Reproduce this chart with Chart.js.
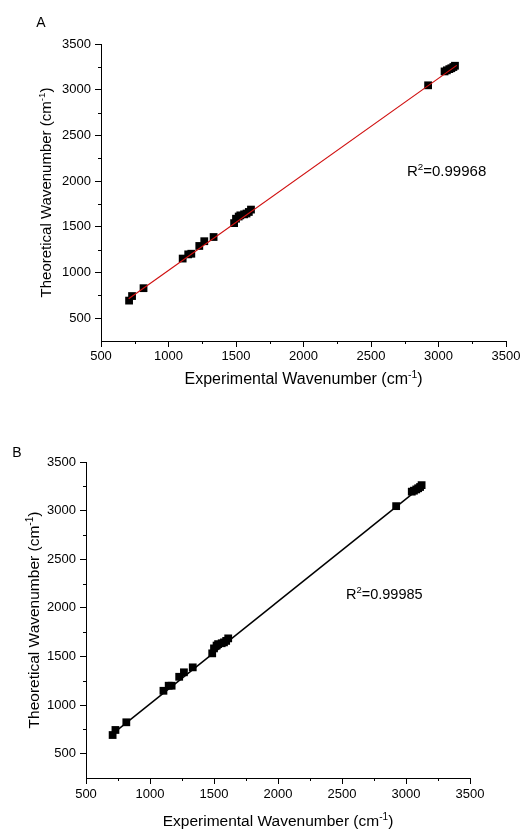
<!DOCTYPE html>
<html>
<head>
<meta charset="utf-8">
<script src="https://cdn.jsdelivr.net/npm/chart.js@4.4.1/dist/chart.umd.min.js"></script>
<style>
  body { margin: 0; background: #fff; }
  .panel { position: absolute; left: 0; width: 531px; }
</style>
</head>
<body>
<div class="panel" style="top:0;height:400px"><canvas id="chartA" width="531" height="400"></canvas></div>
<div class="panel" style="top:400px;height:431px"><canvas id="chartB" width="531" height="431"></canvas></div>
<script>
// experimental wavenumbers (cm-1), shared by both panels
var expX = [708, 730, 815, 1105, 1146, 1169, 1228, 1265, 1334, 1486, 1500, 1520, 1532, 1560, 1578, 1595, 1611, 2923, 3045, 3062, 3080, 3095, 3110, 3122];
// theoretical wavenumbers, panel A and panel B
var theoA = [692, 742, 828, 1152, 1198, 1205, 1290, 1342, 1388, 1540, 1588, 1612, 1625, 1636, 1645, 1662, 1688, 3048, 3200, 3212, 3225, 3235, 3248, 3262];
var theoB = [692, 744, 823, 1147, 1199, 1199, 1291, 1337, 1388, 1532, 1583, 1612, 1627, 1636, 1645, 1660, 1686, 3046, 3195, 3205, 3218, 3230, 3243, 3262];
// fitted line end points
var fitX = [705, 3135];
var fitA = [712, 3266];
var fitB = [702, 3262];
var xTicks = [500, 1000, 1500, 2000, 2500, 3000, 3500];
var yTicks = [500, 1000, 1500, 2000, 2500, 3000, 3500];
var r2A = '0.99968';
var r2B = '0.99985';

var FONT = '"Liberation Sans", Arial, sans-serif';

function pts(xs, ys) {
  return xs.map(function (x, i) { return { x: x, y: ys[i] }; });
}

// draw text made of normal / superscript parts
function drawParts(ctx, parts, x, y, size, align) {
  var w = 0;
  parts.forEach(function (p) {
    ctx.font = (p[1] ? size * 0.65 : size) + 'px ' + FONT;
    w += ctx.measureText(p[0]).width;
  });
  var cx = align === 'left' ? x : x - w / 2;
  ctx.textAlign = 'left';
  ctx.textBaseline = 'middle';
  parts.forEach(function (p) {
    ctx.font = (p[1] ? size * 0.65 : size) + 'px ' + FONT;
    ctx.fillText(p[0], cx, p[1] ? y - size * 0.33 : y);
    cx += ctx.measureText(p[0]).width;
  });
}

var textPlugin = {
  id: 'panelText',
  afterDraw: function (chart, args, o) {
    var ctx = chart.ctx, a = chart.chartArea;
    var xs = chart.scales.x, ys = chart.scales.y;
    ctx.save();
    ctx.strokeStyle = '#000';
    ctx.lineWidth = 1;
    // minor ticks
    ctx.beginPath();
    for (var i = 0; i < xTicks.length - 1; i++) {
      var px = Math.round(xs.getPixelForValue(xTicks[i] + 250)) + 0.5;
      ctx.moveTo(px, a.bottom);
      ctx.lineTo(px, a.bottom + 3);
    }
    for (var j = 0; j < yTicks.length - 1; j++) {
      var py = Math.round(ys.getPixelForValue(yTicks[j] + 250)) + 0.5;
      ctx.moveTo(a.left, py);
      ctx.lineTo(a.left - 3, py);
    }
    ctx.stroke();

    ctx.fillStyle = '#000';
    // panel letter
    ctx.font = o.letterSize + 'px ' + FONT;
    ctx.textAlign = 'center';
    ctx.textBaseline = 'middle';
    ctx.fillText(o.letter, o.letterX, o.letterY);
    // axis titles
    drawParts(ctx, [['Experimental Wavenumber (cm', false], ['-1', true], [')', false]],
      (a.left + a.right) / 2, o.xTitleY, o.xTitleSize, 'center');
    ctx.save();
    ctx.translate(o.yTitleX, (a.top + a.bottom) / 2);
    ctx.rotate(-Math.PI / 2);
    drawParts(ctx, [['Theoretical Wavenumber (cm', false], ['-1', true], [')', false]],
      0, 0, o.yTitleSize, 'center');
    ctx.restore();
    // R squared
    drawParts(ctx, [['R', false], ['2', true], ['=' + o.r2, false]], o.r2X, o.r2Y, o.r2Size, 'left');
    ctx.restore();
  }
};

function plain(v) { return String(v); }

function makeChart(id, theo, fit, lineColor, lineWidth, lay, txt) {
  return new Chart(document.getElementById(id), {
    type: 'scatter',
    data: {
      datasets: [{
        data: pts(fitX, fit),
        showLine: true,
        borderColor: lineColor,
        borderWidth: lineWidth,
        pointRadius: 0
      }, {
        data: pts(expX, theo),
        pointStyle: 'rect',
        pointRadius: 5.5,
        backgroundColor: '#000',
        borderColor: '#000',
        borderWidth: 0
      }]
    },
    options: {
      responsive: false,
      animation: false,
      events: [],
      layout: { padding: { left: 0, right: lay.right, top: lay.top, bottom: 0 } },
      plugins: { legend: { display: false }, tooltip: { enabled: false }, panelText: txt },
      scales: {
        x: {
          type: 'linear',
          min: 500, max: 3500,
          afterFit: function (s) { s.height = lay.xh; },
          afterBuildTicks: function (s) { s.ticks = xTicks.map(function (v) { return { value: v }; }); },
          border: { color: '#000', width: 1 },
          grid: { drawOnChartArea: false, tickLength: 6, tickColor: '#000' },
          ticks: { color: '#000', padding: lay.xpad, maxRotation: 0, callback: plain, font: { family: FONT, size: 13 } }
        },
        y: {
          type: 'linear',
          min: 250, max: 3500,
          afterFit: function (s) { s.width = lay.yw; },
          afterBuildTicks: function (s) { s.ticks = yTicks.map(function (v) { return { value: v }; }); },
          border: { color: '#000', width: 1 },
          grid: { drawOnChartArea: false, tickLength: 6, tickColor: '#000' },
          ticks: { color: '#000', padding: 4, callback: plain, font: { family: FONT, size: 13 } }
        }
      }
    },
    plugins: [textPlugin]
  });
}

makeChart('chartA', theoA, fitA, '#d01010', 1.2,
  { right: 25, top: 44, xh: 59, yw: 101, xpad: 2 },
  { letter: 'A', letterX: 41, letterY: 23, letterSize: 14,
    xTitleY: 380, xTitleSize: 16, yTitleX: 47, yTitleSize: 15,
    r2: r2A, r2X: 407, r2Y: 172, r2Size: 15 });

makeChart('chartB', theoB, fitB, '#000', 1.5,
  { right: 61, top: 62, xh: 53, yw: 86, xpad: 3 },
  { letter: 'B', letterX: 17, letterY: 53, letterSize: 14,
    xTitleY: 422, xTitleSize: 15.5, yTitleX: 35, yTitleSize: 15.5,
    r2: r2B, r2X: 346, r2Y: 195, r2Size: 14.5 });
</script>
</body>
</html>
